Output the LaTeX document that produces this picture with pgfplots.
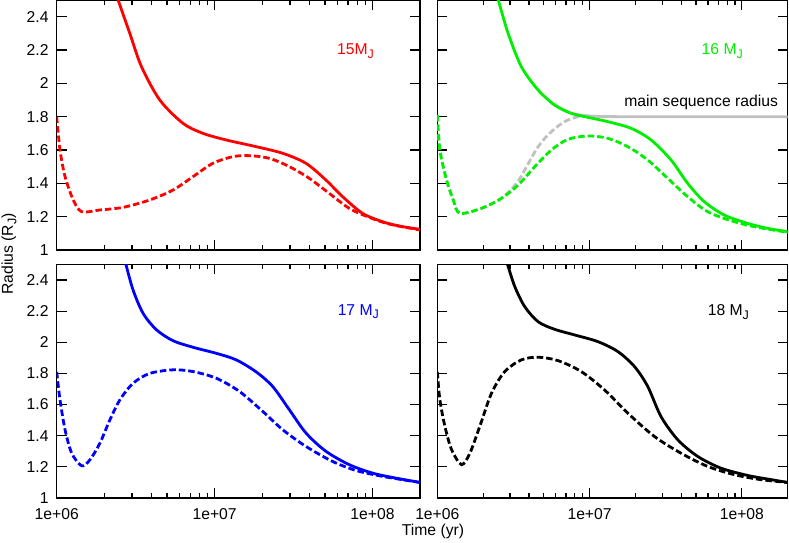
\documentclass[border=0pt]{standalone}
\usepackage{fontspec}
\setmainfont{Liberation Sans}
\usepackage{pgfplots}
\pgfplotsset{compat=1.18}
\definecolor{gpgreen}{RGB}{0,238,0}
\definecolor{gpgray}{RGB}{192,192,192}
\newcommand{\subJ}{\raisebox{-3.5pt}{\fontsize{12.5}{12.5}\selectfont J}}
\pgfplotsset{
  panel/.style={
    scale only axis,
    xmin=6, xmax=8.30103, ymin=1, ymax=2.5,
    xtick={6,7,8},
    minor xtick={6.30103,6.47712,6.60206,6.69897,6.77815,6.84510,6.90309,6.95424,
                 7.30103,7.47712,7.60206,7.69897,7.77815,7.84510,7.90309,7.95424,8.30103},
    ytick={1,1.2,1.4,1.6,1.8,2,2.2,2.4},
    xticklabels={1e+06,1e+07,1e+08},
    yticklabels={1,1.2,1.4,1.6,1.8,2,2.2,2.4},
    tick align=inside,
    major tick length=10pt, minor tick length=5pt,
    axis line style={line width=1.4pt},
    every tick/.style={line width=1.2pt, black},
    yticklabel style={inner sep=0pt, xshift=-8pt},
    xticklabel style={inner sep=0pt, anchor=base, yshift=-21pt},
  },
  nox/.style={xticklabels={}},
  noy/.style={yticklabels={}},
  sol/.style={line width=2.8pt, smooth, no markers},
  dsh/.style={line width=2.8pt, smooth, no markers, dash pattern=on 6.5pt off 3pt},
}
\begin{document}
\fontsize{15.7}{18}\selectfont
\begin{tikzpicture}
\useasboundingbox (0,0) rectangle (789pt,542pt);
% ---------- top left: 15 MJ
\begin{axis}[panel, nox, at={(56.7pt,292pt)}, anchor=south west, width=363.3pt, height=250pt]
\addplot[sol, red] coordinates {
(6.370,2.56) (6.389,2.5) (6.463,2.3) (6.537,2.1) (6.653,1.9) (6.80,1.76) (6.926,1.70)
(7.074,1.66) (7.263,1.62) (7.432,1.58) (7.579,1.52) (7.705,1.42) (7.811,1.32)
(7.937,1.22) (8.063,1.17) (8.168,1.144) (8.301,1.124)};
\addplot[dsh, red] coordinates {
(6.000,1.80) (6.021,1.60) (6.053,1.44) (6.105,1.30) (6.158,1.23) (6.274,1.24)
(6.421,1.256) (6.589,1.30) (6.737,1.36) (6.863,1.44) (6.989,1.52) (7.116,1.56)
(7.221,1.566) (7.347,1.55) (7.474,1.50) (7.60,1.43) (7.726,1.34) (7.853,1.25)
(7.979,1.196) (8.105,1.156) (8.301,1.12)};
\node[anchor=base east, text=red, inner sep=0pt] at (axis cs:8.01,2.17) {15M\subJ};
\end{axis}
% ---------- top right: 16 MJ
\begin{axis}[panel, nox, noy, at={(437.3pt,292pt)}, anchor=south west, width=350.4pt, height=250pt]
\addplot[dsh, gpgray] coordinates {
(6.000,1.81) (6.017,1.60) (6.061,1.42) (6.105,1.30) (6.148,1.22) (6.29,1.25)
(6.421,1.31) (6.52,1.40) (6.574,1.48) (6.662,1.62) (6.749,1.71) (6.836,1.77)
(6.924,1.80) (7.0,1.805)};
\addplot[sol, gpgray] coordinates {
(6.75,1.88) (6.85,1.83) (6.95,1.808) (7.05,1.802) (7.2,1.80) (7.6,1.80) (8.301,1.80)};
\addplot[sol, gpgreen] coordinates {
(6.38,2.55) (6.40,2.5) (6.465,2.3) (6.552,2.1) (6.662,1.96) (6.771,1.87) (6.880,1.82)
(6.989,1.796) (7.12,1.77) (7.273,1.73) (7.404,1.66) (7.535,1.54) (7.644,1.40)
(7.753,1.29) (7.884,1.21) (8.037,1.16) (8.168,1.13) (8.301,1.11)};
\addplot[dsh, gpgreen] coordinates {
(6.000,1.81) (6.017,1.60) (6.061,1.42) (6.105,1.30) (6.148,1.22) (6.29,1.25)
(6.421,1.31) (6.531,1.39) (6.64,1.50) (6.749,1.60) (6.858,1.664) (6.989,1.684)
(7.12,1.67) (7.251,1.62) (7.382,1.54) (7.513,1.43) (7.644,1.32) (7.775,1.23)
(7.928,1.176) (8.081,1.14) (8.301,1.106)};
\node[anchor=base east, text=gpgreen, inner sep=0pt] at (axis cs:8.008,2.17) {16 M\subJ};
\node[anchor=base east, inner sep=0pt] at (axis cs:8.238,1.864) {main sequence radius};
\end{axis}
% ---------- bottom left: 17 MJ
\begin{axis}[panel, at={(56.7pt,44pt)}, anchor=south west, width=363.3pt, height=233.6pt]
\addplot[sol, blue] coordinates {
(6.42,2.56) (6.438,2.5) (6.484,2.335) (6.547,2.186) (6.632,2.08) (6.737,2.01)
(6.863,1.968) (7.011,1.929) (7.137,1.887) (7.263,1.81) (7.368,1.716) (7.474,1.566)
(7.579,1.417) (7.705,1.30) (7.853,1.214) (8.0,1.16) (8.147,1.128) (8.301,1.10)};
\addplot[dsh, blue] coordinates {
(6.000,1.81) (6.021,1.63) (6.053,1.438) (6.095,1.288) (6.158,1.207) (6.211,1.246)
(6.274,1.353) (6.337,1.502) (6.40,1.63) (6.484,1.737) (6.589,1.80) (6.737,1.823)
(6.863,1.812) (7.011,1.769) (7.158,1.684) (7.305,1.556) (7.432,1.438) (7.579,1.331)
(7.747,1.235) (7.895,1.177) (8.063,1.139) (8.301,1.10)};
\node[anchor=base east, text=blue, inner sep=0pt] at (axis cs:8.042,2.175) {17 M\subJ};
\end{axis}
% ---------- bottom right: 18 MJ
\begin{axis}[panel, noy, at={(437.3pt,44pt)}, anchor=south west, width=350.4pt, height=233.6pt]
\addplot[sol, black] coordinates {
(6.45,2.53) (6.461,2.5) (6.509,2.357) (6.574,2.229) (6.662,2.132) (6.771,2.083)
(6.902,2.047) (7.055,2.004) (7.186,1.94) (7.295,1.844) (7.382,1.716) (7.469,1.523)
(7.579,1.374) (7.71,1.267) (7.862,1.192) (8.037,1.145) (8.168,1.122) (8.301,1.10)};
\addplot[dsh, black] coordinates {
(6.000,1.81) (6.017,1.63) (6.05,1.46) (6.094,1.31) (6.159,1.214) (6.214,1.288)
(6.279,1.46) (6.356,1.673) (6.443,1.812) (6.552,1.887) (6.662,1.904) (6.793,1.882)
(6.945,1.812) (7.098,1.694) (7.251,1.545) (7.426,1.395) (7.60,1.288) (7.775,1.203)
(7.95,1.15) (8.124,1.118) (8.301,1.10)};
\node[anchor=base east, inner sep=0pt] at (axis cs:8.048,2.17) {18 M\subJ};
\end{axis}
\node[rotate=90] at (9pt,288pt) {Radius (R\subJ)};
\node[anchor=base, inner sep=0pt] at (433pt,7pt) {Time (yr)};
\end{tikzpicture}
\end{document}
